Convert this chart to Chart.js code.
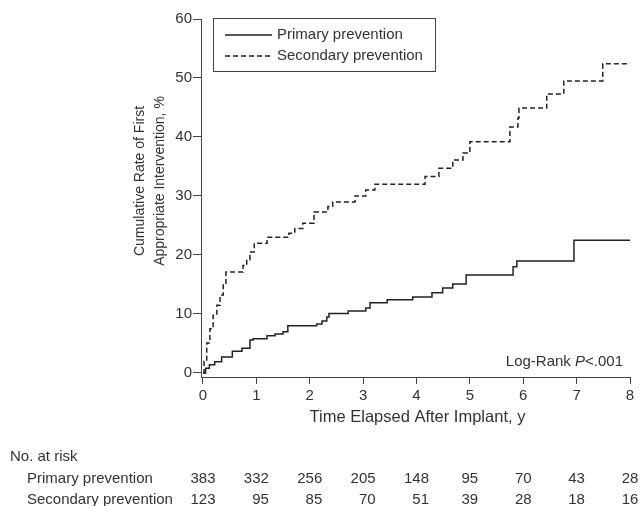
<!DOCTYPE html>
<html>
<head>
<meta charset="utf-8">
<script src="https://cdn.jsdelivr.net/npm/chart.js@4/dist/chart.umd.min.js"></script>
<style>
  html, body { margin: 0; padding: 0; background: #fff; }
</style>
</head>
<body>
<canvas id="kmChart" width="641" height="506"></canvas>
<script>
// axis ticks
const yearTicks = [0, 1, 2, 3, 4, 5, 6, 7, 8];
const rateTicks = [0, 10, 20, 30, 40, 50, 60];

// cumulative rate after each event (step curves)
const primaryTimes = [0, 0.05, 0.12, 0.22, 0.35, 0.55, 0.73, 0.88, 0.94, 1.2, 1.35, 1.5, 1.59, 2.13, 2.23, 2.32, 2.36, 2.72, 3.05, 3.13, 3.45, 3.93, 4.29, 4.49, 4.68, 4.93, 5.81, 5.88, 6.95, 8];
const primaryRates = [0, 0.8, 1.4, 1.9, 2.7, 3.7, 4.2, 5.6, 5.8, 6.3, 6.6, 7.0, 8.0, 8.3, 8.8, 9.5, 10.1, 10.5, 11.0, 11.9, 12.4, 12.9, 13.6, 14.4, 15.1, 16.6, 18.0, 19.0, 22.5, 22.5];

const secondaryTimes = [0, 0.02, 0.07, 0.13, 0.19, 0.26, 0.32, 0.38, 0.43, 0.75, 0.82, 0.88, 0.96, 1.2, 1.61, 1.72, 1.87, 2.08, 2.34, 2.43, 2.85, 3.05, 3.22, 4.16, 4.42, 4.68, 4.87, 5.0, 5.75, 5.9, 5.92, 6.44, 6.76, 7.49, 8];
const secondaryRates = [0, 2.0, 5.1, 7.5, 9.8, 11.5, 13.2, 15.2, 17.1, 18.2, 19.2, 20.5, 22.0, 23.0, 23.7, 24.5, 25.4, 27.3, 28.2, 29.0, 30.0, 31.0, 32.0, 33.3, 34.7, 36.1, 37.3, 39.2, 41.7, 43.2, 44.9, 47.3, 49.5, 52.4, 52.4];

// number at risk
const riskPrimary = [383, 332, 256, 205, 148, 95, 70, 43, 28];
const riskSecondary = [123, 95, 85, 70, 51, 39, 28, 18, 16];

const fontFamily = "'Liberation Sans', Arial, sans-serif";
const textColor = '#333';
const lineColor = '#222';

function toPoints(xs, ys) {
  return xs.map((x, i) => ({ x: x, y: ys[i] }));
}

// titles, legend, log-rank note, risk table
const extrasPlugin = {
  id: 'extras',
  afterDraw(chart) {
    const ctx = chart.ctx;
    const xScale = chart.scales.x;
    ctx.save();
    ctx.fillStyle = textColor;
    ctx.textBaseline = 'middle';

    // y title
    ctx.font = '14px ' + fontFamily;
    ctx.textAlign = 'center';
    ctx.save();
    ctx.translate(140, 181);
    ctx.rotate(-Math.PI / 2);
    ctx.fillText('Cumulative Rate of First', 0, 0);
    ctx.restore();
    ctx.save();
    ctx.translate(160, 181);
    ctx.rotate(-Math.PI / 2);
    ctx.fillText('Appropriate Intervention, %', 0, 0);
    ctx.restore();

    // x title
    ctx.font = '16.5px ' + fontFamily;
    const midX = (xScale.getPixelForValue(0) + xScale.getPixelForValue(8)) / 2 + 1;
    ctx.fillText('Time Elapsed After Implant, y', midX, 417);

    ctx.font = '15px ' + fontFamily;

    // legend
    ctx.strokeStyle = '#444';
    ctx.lineWidth = 1;
    ctx.strokeRect(213.5, 18.5, 222, 53);
    const rows = [35, 56];
    chart.data.datasets.forEach((ds, i) => {
      ctx.save();
      ctx.strokeStyle = ds.borderColor;
      ctx.lineWidth = ds.borderWidth;
      ctx.setLineDash(ds.borderDash || []);
      ctx.beginPath();
      ctx.moveTo(225, rows[i]);
      ctx.lineTo(272, rows[i]);
      ctx.stroke();
      ctx.restore();
      ctx.textAlign = 'left';
      ctx.fillText(ds.label, 277, rows[i]);
    });

    // log-rank note
    const partA = 'Log-Rank ';
    const partB = 'P';
    const partC = '<.001';
    const wA = ctx.measureText(partA).width;
    const wC = ctx.measureText(partC).width;
    ctx.font = 'italic 15px ' + fontFamily;
    const wB = ctx.measureText(partB).width;
    const lx = 623 - wA - wB - wC;
    ctx.textAlign = 'left';
    ctx.font = '15px ' + fontFamily;
    ctx.fillText(partA, lx, 362);
    ctx.font = 'italic 15px ' + fontFamily;
    ctx.fillText(partB, lx + wA, 362);
    ctx.font = '15px ' + fontFamily;
    ctx.fillText(partC, lx + wA + wB, 362);

    // risk table
    ctx.fillText('No. at risk', 10, 457);
    ctx.fillText('Primary prevention', 27, 479);
    ctx.fillText('Secondary prevention', 27, 500);
    ctx.textAlign = 'right';
    yearTicks.forEach((t, i) => {
      const px = xScale.getPixelForValue(t);
      const a = String(riskPrimary[i]);
      const b = String(riskSecondary[i]);
      const w = Math.max(ctx.measureText(a).width, ctx.measureText(b).width);
      ctx.fillText(a, px + w / 2, 479);
      ctx.fillText(b, px + w / 2, 500);
    });
    ctx.restore();
  }
};

const ctx = document.getElementById('kmChart').getContext('2d');
new Chart(ctx, {
  type: 'line',
  data: {
    datasets: [
      {
        label: 'Primary prevention',
        data: toPoints(primaryTimes, primaryRates),
        borderColor: lineColor,
        borderWidth: 1.5,
        stepped: true,
        pointRadius: 0,
        fill: false
      },
      {
        label: 'Secondary prevention',
        data: toPoints(secondaryTimes, secondaryRates),
        borderColor: lineColor,
        borderWidth: 1.5,
        borderDash: [5, 3],
        stepped: true,
        pointRadius: 0,
        fill: false
      }
    ]
  },
  options: {
    responsive: false,
    animation: false,
    devicePixelRatio: 1,
    layout: {
      padding: { top: 19, right: 11, left: 0, bottom: 79 }
    },
    plugins: {
      legend: { display: false },
      tooltip: { enabled: false }
    },
    scales: {
      x: {
        type: 'linear',
        min: -0.037,
        max: 8,
        afterBuildTicks: s => { s.ticks = yearTicks.map(v => ({ value: v })); },
        afterFit: s => { s.height = 50; },
        grid: { drawOnChartArea: false, tickLength: 7, color: '#444', lineWidth: 1 },
        border: { display: true, color: '#444', width: 1 },
        ticks: {
          font: { family: fontFamily, size: 15 },
          color: textColor,
          padding: 3,
          maxRotation: 0
        }
      },
      y: {
        min: -0.68,
        max: 60,
        afterBuildTicks: s => { s.ticks = rateTicks.map(v => ({ value: v })); },
        afterFit: s => { s.width = 201; },
        grid: { drawOnChartArea: false, tickLength: 8, color: '#444', lineWidth: 1 },
        border: { display: true, color: '#444', width: 1 },
        ticks: {
          font: { family: fontFamily, size: 15 },
          color: textColor,
          padding: 1
        }
      }
    }
  },
  plugins: [extrasPlugin]
});
</script>
</body>
</html>
